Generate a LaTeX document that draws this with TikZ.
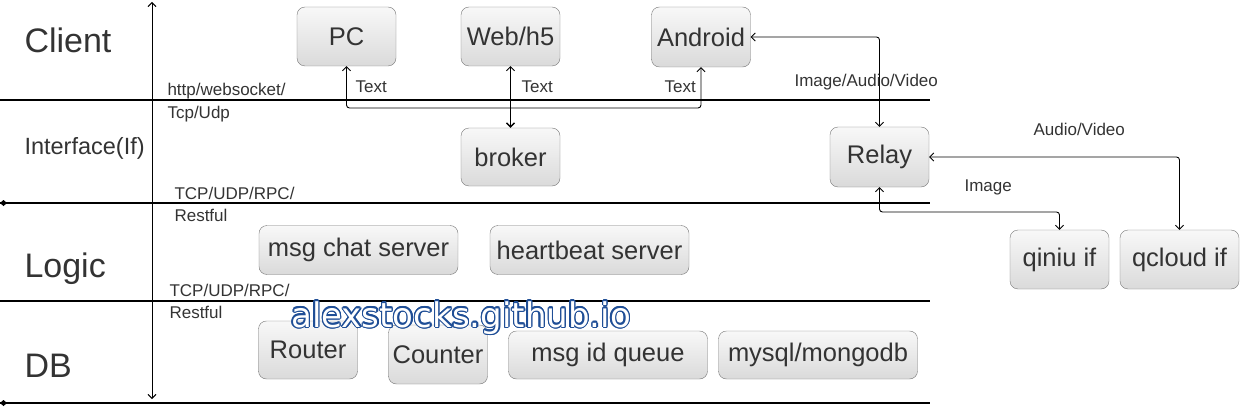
\documentclass[tikz,border=0pt]{standalone}
\usepackage{fontspec}
\setmainfont{Liberation Sans}
\newfontfamily\wmfont{DejaVu Sans}
\usepackage{contour}
\contourlength{1.3pt}
\usetikzlibrary{arrows.meta}
\definecolor{boxline}{HTML}{777777}
\definecolor{boxtop}{HTML}{F8F8F8}
\definecolor{boxbot}{HTML}{DADADA}
\definecolor{txt}{HTML}{333333}
\definecolor{wmblue}{HTML}{1F4E96}

\begin{document}
\begin{tikzpicture}[x=1pt, y=-1pt,
    box/.style={draw=boxline, rounded corners=8pt, top color=boxtop, bottom color=boxbot,
        text=txt, font=\fontsize{25.5}{30}\selectfont, inner sep=0pt,
        minimum width=99pt, minimum height=58pt},
    layer/.style={anchor=base west, text=txt, font=\fontsize{34}{40}\selectfont},
    lbl/.style={anchor=base west, text=txt, font=\fontsize{17}{20}\selectfont},
    sep/.style={line width=2pt},
    link/.style={line width=0.9pt, rounded corners=3pt, -{Straight Barb[length=4pt,width=8pt]}},
    dlink/.style={link, {Straight Barb[length=4pt,width=8pt]}-{Straight Barb[length=4pt,width=8pt]}}]
    \useasboundingbox (0,0) rectangle (1240,417);

    % Layers
    \foreach \y in {100,203,301,403} {
        \draw[sep] (0,\y) -- (930,\y);
    }
    \foreach \y in {203,403} {
        \fill (0,\y) -- (3.5,\y-3) -- (7,\y) -- (3.5,\y+3) -- cycle;
    }
    \node[layer] (client) at (21,53) {Client};
    \node[layer, font=\fontsize{23.5}{28}\selectfont] (iface) at (21,155) {Interface(If)};
    \node[layer] (logic) at (21,277) {Logic};
    \node[layer] (db) at (21,377) {DB};
    \coordinate (axtop) at (152,2);
    \coordinate (axbot) at (152,399);
    \draw[dlink] (axtop) -- (axbot);

    % Protocols
    \node[lbl] (p1) at (164,96) {http/websocket/};
    \node[lbl] (p2) at (164,119) {Tcp/Udp};
    \node[lbl] (p3) at (171,199) {TCP/UDP/RPC/};
    \node[lbl] (p4) at (171,222) {Restful};
    \node[lbl] (p5) at (166,296) {TCP/UDP/RPC/};
    \node[lbl] (p6) at (166,318) {Restful};

    % Client
    \node[box, minimum height=59pt] (pc) at (346.5,36.5) {PC};
    \node[box, minimum height=59pt] (web) at (510.5,36.5) {Web/h5};
    \node[box, minimum height=60pt] (android) at (701,37) {Android};

    % Interface
    \node[box] (broker) at (510.5,157) {broker};
    \node[box, minimum height=60pt] (relay) at (879.5,157) {Relay};
    \node[box, minimum height=59pt] (qiniu) at (1059.5,259.5) {qiniu if};
    \node[box, minimum width=119pt, minimum height=59pt] (qcloud) at (1179.5,259.5) {qcloud if};

    % Logic
    \node[box, minimum width=199pt, minimum height=49pt] (chat) at (358.5,250) {msg chat server};
    \node[box, minimum width=199pt, minimum height=49pt] (heart) at (589.5,250) {heartbeat server};

    % DB
    \node[box] (router) at (308,350) {Router};
    \node[box, minimum height=59pt] (counter) at (438,354.5) {Counter};
    \node[box, minimum width=199pt, minimum height=48pt] (idq) at (608,355) {msg id queue};
    \node[box, minimum width=199pt, minimum height=48pt] (mysql) at (818,355) {mysql/mongodb};

    % Text links
    \coordinate (hub) at (510.5,108);
    \draw[link] (hub) -| (pc.south);
    \draw[link] (hub) -- (web.south);
    \draw[link] (hub) -| (android.south);
    \draw[link, line width=1.4pt] (hub) -- (broker.north);
    \node[lbl] (t1) at (352,93) {Text};
    \node[lbl] (t2) at (518,93) {Text};
    \node[lbl] (t3) at (661,93) {Text};

    % Media links
    \draw[dlink] (android.east) -| (relay.north);
    \node[lbl] (m1) at (791,87) {Image/Audio/Video};
    \draw[dlink] (relay.east) -| (qcloud.north);
    \node[lbl] (m2) at (1030,136) {Audio/Video};
    \coordinate (turn) at (879.5,212);
    \draw[dlink] (relay.south) -- (turn) -| (qiniu.north);
    \node[lbl] (m3) at (961,191) {Image};

    % Watermark
    \node[anchor=base west, inner sep=0pt, text=white, font=\wmfont\fontsize{34}{40}\selectfont]
        (wm) at (291,327) {\contour{wmblue}{alexstocks.github.io}};
\end{tikzpicture}
\end{document}
